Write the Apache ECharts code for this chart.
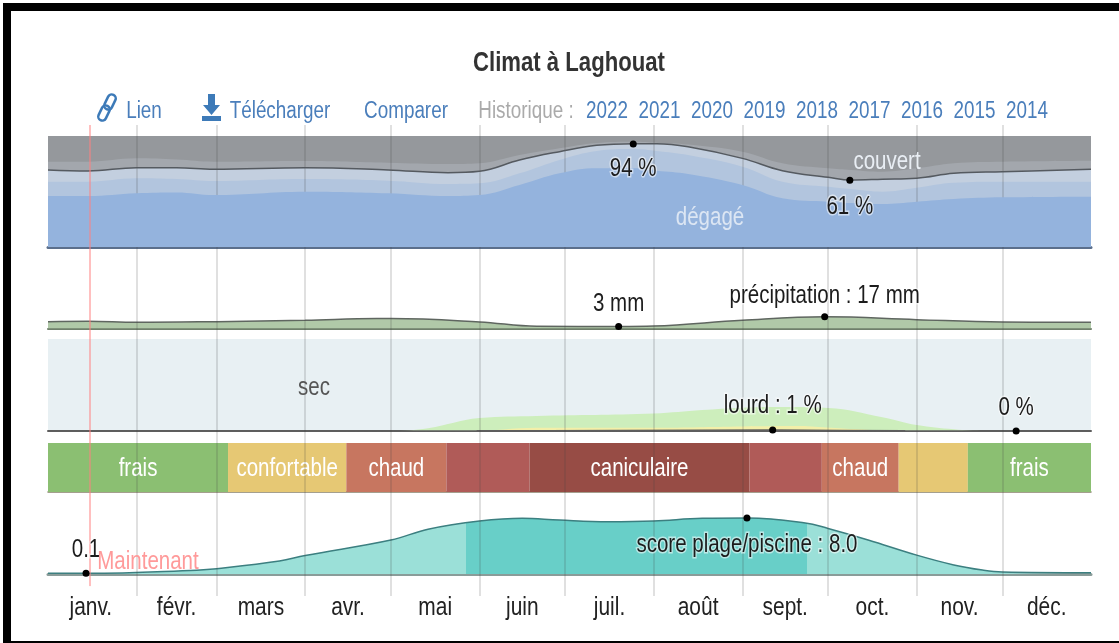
<!DOCTYPE html>
<html><head><meta charset="utf-8">
<style>html,body{margin:0;padding:0;background:#fff}#c{width:1119px;height:643px}</style>
<script src="https://cdn.jsdelivr.net/npm/echarts@6/dist/echarts.min.js"></script>
</head><body><div id="c"></div>
<script>
const months=['janv.','févr.','mars','avr.','mai','juin','juil.','août','sept.','oct.','nov.','déc.'];
const monthMid=[15,45,74.5,105,135.5,166,196.5,227.5,258,288.5,319,349.5];
const monthEdge=[31,59,90,120,151,181,212,243,273,304,334];
const nowDay=14.7;
const years=['2022','2021','2020','2019','2018','2017','2016','2015','2014'];

const cloudDays=[0,14,31,45,58,90,119,140,151,165,179,192,205,213,224,243,257,273,281,292,304,317,334,365];
const cloudLine=[70.3,69.3,72.4,72.4,70.9,72.4,70.3,67.8,69.1,79.4,87,92.8,94.3,94.3,91.5,80.9,69.6,63.6,61.1,61.8,62.7,67.2,68.7,70.9];
const cloudGrey=[77.8,77.8,80.9,79.8,77.8,78.5,76.9,75.7,76.4,83.9,90.1,94.9,96.1,95.2,93.5,87,76.4,71.8,70.3,68.7,71.8,76.4,77.8,78.7];
const cloudPale=[59.6,59.6,62.7,62,60.2,62,60.5,57.5,58.1,67.2,79.4,87.6,89.4,87.6,83.9,73.3,59.6,55,52.9,50.5,54.1,58.7,59.6,59.6];
const cloudBlue=[46.5,46.5,49,49.7,47.4,50.5,49,46.5,47.4,56.6,67.2,71.8,71.8,69.6,66.6,56.6,44.4,41.3,40.1,39.2,41.3,43.8,45.3,45.9];

const rainDays=[0,14,31,59,90,115,120,151,171,200,212,243,272,304,334,365];
const rainMm=[10.1,10.6,9.1,10.1,12,14.5,14.5,9.7,3.3,3,3.6,12,17,13,9.7,9.1];

const mugDays=[0,120,133,151,171,212,229,254,273,292,304,317,328,365];
const mugPct=[0,0,3,14,16.3,19,22.8,26,25,15,6.5,1.8,0,0];
const heavyDays=[0,148,171,212,243,263,274,285,295,365];
const heavyPct=[0,0,3.6,3.6,5,5.5,3.5,1.5,0,0];
const oppDays=[0,150,200,254,300,365];
const oppPct=[0,0.2,0.6,1,0.2,0];

const bandStart=[0,63,104.4,139.4,168.5,245.5,270.8,297.7,321.9];
const bandEnd=[63,104.4,139.4,168.5,245.5,270.8,297.7,321.9,365];
const bandName=['frais','confortable','chaud','','caniculaire','','chaud','','frais'];
const bandColor=['#8bbf72','#e6c874','#c77660','#b05b58','#974c45','#b05b58','#c77660','#e6c874','#8bbf72'];

const scoreDays=[0,14,52,59,81,90,120,133,151,166,179,196,212,229,245,265,273,287,304,317,327,334,365];
const scoreVals=[0.1,0.1,0.55,0.75,1.85,2.65,4.85,6.4,7.57,7.98,7.7,7.47,7.57,7.95,8,7.3,6.5,4.86,2.7,1.3,0.57,0.29,0.19];
const scoreStrongFrom=146.4, scoreStrongTo=265.5;

const zip=(a,b)=>a.map((d,i)=>[d,b[i]]);
const FONT='"Liberation Sans",sans-serif';
const SX=0.82;
const hideY=(i,max)=>({type:'value',gridIndex:i,min:0,max:max,show:false});
const xA=(i,base)=>({type:'value',gridIndex:i,min:0,max:365,show:!!base,
  axisLine:{show:!!base,onZero:false,lineStyle:base?{color:base[0],width:base[1]}:{}},axisTick:{show:false},axisLabel:{show:false},splitLine:{show:false}});

const SM=0.4;
const area=(xi,days,vals,color,z)=>({type:'line',xAxisIndex:xi,yAxisIndex:xi,data:zip(days,vals),smooth:SM,
  showSymbol:false,silent:true,z:z,lineStyle:{width:0},areaStyle:{color:color,opacity:1}});
const line=(xi,days,vals,color,w,z)=>({type:'line',xAxisIndex:xi,yAxisIndex:xi,data:zip(days,vals),smooth:SM,
  showSymbol:false,silent:true,z:z,lineStyle:{color:color,width:w}});
const dot=(xi,d,v,text,dy)=>({type:'custom',xAxisIndex:xi,yAxisIndex:xi,data:[[d,v]],encode:{x:0,y:1},z:30,silent:true,clip:false,
  renderItem:(p,api)=>{const c=api.coord([api.value(0),api.value(1)]);
   return {type:'group',children:[
    {type:'circle',shape:{cx:c[0],cy:c[1],r:3.5},style:{fill:'#000'}},
    {type:'text',x:c[0],y:c[1]+dy+2,scaleX:SX,style:{text:text,fill:'#1c1c1c',font:'25px '+FONT,textAlign:'center',textVerticalAlign:'middle',stroke:'rgba(255,255,255,0.55)',lineWidth:3}}
   ]};}});
const txt=(t,x,y,color,size,extra)=>({type:'text',z:40,silent:true,x:x,y:y+2,scaleX:SX,style:Object.assign({text:t,fill:color,font:size+'px '+FONT,textAlign:'center',textVerticalAlign:'middle'},extra||{})});

const LINK='#4a7ebb';
const graphic=[
 {type:'rect',z:50,shape:{x:3,y:3,width:1116,height:8},style:{fill:'#000'}},
 {type:'rect',z:50,shape:{x:3,y:3,width:8,height:640},style:{fill:'#000'}},
 {type:'rect',z:50,shape:{x:3,y:641,width:1116,height:2},style:{fill:'#000'}},
 txt('Climat à Laghouat',569,62,'#333',28,{font:'bold 27px '+FONT}),
 txt('Lien',144,110,LINK,23),
 txt('Télécharger',280,110,LINK,23),
 txt('Comparer',406,110,LINK,23),
 txt('Historique :',526,110,'#aaaaaa',23),
 ...years.map((y,i)=>txt(y,607+i*52.5,110,LINK,23)),
 {type:'rect',z:40,rotation:-0.45,originX:104,originY:113,shape:{x:100,y:105,width:8,height:16,r:4},style:{fill:'none',stroke:'#3d7ab8',lineWidth:2.5}},
 {type:'rect',z:40,rotation:-0.45,originX:110,originY:102,shape:{x:106,y:94,width:8,height:16,r:4},style:{fill:'none',stroke:'#3d7ab8',lineWidth:2.5}},
 {type:'polygon',z:40,shape:{points:[[208,94],[215,94],[215,105],[220,105],[211.5,115],[203,105],[208,105]]},style:{fill:'#3d7ab8'}},
 {type:'rect',z:40,shape:{x:202,y:116,width:19,height:5},style:{fill:'#3d7ab8'}},
 txt('couvert',887,160,'#e9eef4',25),
 txt('dégagé',710,216,'#dce6f3',25),
 txt('sec',314,386,'#555',25),
 txt('Maintenant',148,560,'#ff9a9a',25),
];

const option={
 animation:false,backgroundColor:'#fff',graphic:graphic,
 grid:[
  {left:48,width:1043,top:136,height:111,show:true,backgroundColor:'#95989c',borderWidth:0},
  {left:48,width:1043,top:301,height:27.6},
  {left:48,width:1043,top:339,height:92,show:true,backgroundColor:'#e8f0f3',borderWidth:0},
  {left:48,width:1043,top:443,height:49},
  {left:48,width:1043,top:504,height:70},
  {left:48,width:1043,top:125,height:471},
  {left:48,width:1043,top:596,height:24}
 ],
 xAxis:[
  xA(0,['#5b6f8c',3]),xA(1,['#6f7f6b',2]),xA(2,['#5e5e5e',2]),xA(3,['#87806a',1.5]),xA(4,['#8a9c99',3]),
  xA(5,null),xA(6,null)
 ],
 yAxis:[hideY(0,101.3),hideY(1,40),hideY(2,100),hideY(3,1),hideY(4,10),hideY(5,1),hideY(6,1)],
 series:[
  area(0,cloudDays,cloudGrey,'#a3a7ad',2),
  area(0,cloudDays,cloudLine,'#c3cfdf',3),
  area(0,cloudDays,cloudPale,'#b2c5de',4),
  area(0,cloudDays,cloudBlue,'#94b3dd',5),
  line(0,cloudDays,cloudLine,'#555a60',1.5,6),
  dot(0,204.8,94,'94 %',23),
  dot(0,280.6,61,'61 %',25),

  area(1,rainDays,rainMm,'#b0c9a8',2),
  line(1,rainDays,rainMm,'#5f6660',1.5,3),
  dot(1,199.7,3,'3 mm',-24),
  dot(1,271.8,17,'précipitation : 17 mm',-23),

  area(2,mugDays,mugPct,'#cdeebc',2),
  area(2,heavyDays,heavyPct,'#f3efa9',3),
  line(2,oppDays,oppPct,'#5e5e5e',1.5,4),
  dot(2,253.6,1,'lourd : 1 %',-26),
  dot(2,338.8,0,'0 %',-25),

  {type:'custom',xAxisIndex:3,yAxisIndex:3,z:2,silent:true,data:bandStart.map((s,i)=>[s,bandEnd[i]]),
   encode:{x:[0,1]},
   renderItem:(p,api)=>{
    const a=api.coord([api.value(0),1]),b=api.coord([api.value(1),0]);
    const kids=[{type:'rect',shape:{x:a[0],y:a[1],width:b[0]-a[0],height:b[1]-a[1]},style:{fill:bandColor[p.dataIndex]}}];
    if(bandName[p.dataIndex]) kids.push({type:'text',x:(a[0]+b[0])/2,y:(a[1]+b[1])/2+2,scaleX:SX,z2:5,
      style:{text:bandName[p.dataIndex],fill:'#fff',font:'25px '+FONT,textAlign:'center',textVerticalAlign:'middle'}});
    return {type:'group',children:kids};
   }},

  area(4,scoreDays,scoreVals,{type:'linear',x:0,y:0,x2:1,y2:0,colorStops:[
    {offset:0,color:'#9be0d8'},{offset:scoreStrongFrom/365,color:'#9be0d8'},
    {offset:scoreStrongFrom/365,color:'#68cfc8'},{offset:scoreStrongTo/365,color:'#68cfc8'},
    {offset:scoreStrongTo/365,color:'#9be0d8'},{offset:1,color:'#9be0d8'}]},2),
  line(4,scoreDays,scoreVals,'#3c7f80',1.5,3),
  dot(4,13.3,0.1,'0.1',-25),
  dot(4,244.6,8,'score plage/piscine : 8.0',25),

  {type:'line',xAxisIndex:5,yAxisIndex:5,data:[],z:20,silent:true,showSymbol:false,
   markLine:{silent:true,symbol:'none',animation:false,label:{show:false},
    lineStyle:{color:'rgba(70,70,70,0.22)',width:1.5,type:'solid'},
    data:monthEdge.map(d=>({xAxis:d}))}},
  {type:'line',xAxisIndex:5,yAxisIndex:5,data:[[nowDay,0.021],[nowDay,1]],z:21,silent:true,showSymbol:false,
   lineStyle:{color:'#ff8080',width:1}},

  {type:'custom',xAxisIndex:6,yAxisIndex:6,z:10,silent:true,clip:false,data:monthMid.map(d=>[d,0.5]),encode:{x:0,y:1},
   renderItem:(p,api)=>{const c=api.coord([api.value(0),api.value(1)]);
    return {type:'text',x:c[0],y:c[1],scaleX:SX,style:{text:months[p.dataIndex],fill:'#222',font:'25.5px '+FONT,textAlign:'center',textVerticalAlign:'middle'}};}}
 ]
};
echarts.init(document.getElementById('c'),null,{renderer:'canvas'}).setOption(option);
</script></body></html>
